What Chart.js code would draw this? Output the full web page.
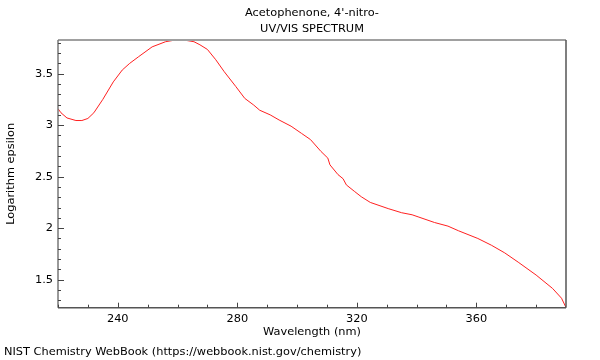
<!DOCTYPE html>
<html>
<head>
<meta charset="utf-8">
<script src="https://cdn.jsdelivr.net/npm/chart.js@4/dist/chart.umd.min.js"></script>
<style>
    html, body { margin: 0; padding: 0; background: #fff; }
    #wrap { width: 600px; height: 360px; }
</style>
</head>
<body>
<div id="wrap"><canvas id="spectrum" width="600" height="360"></canvas></div>
<script>
// values
const wavelength = [220, 221, 223, 226, 228, 230, 232, 235, 238.5, 241.5, 244, 247, 251.5, 256, 259, 262,
    265.5, 267.5, 270, 272.8, 275.6, 279.5, 282.5, 285.5, 287.5, 291, 294, 298, 301.5, 304.5, 308,
    310.3, 311, 313.7, 315.4, 316.5, 319.3, 321.5, 324.5, 330.5, 335, 338.5, 340.5, 346, 350.5,
    354, 360.5, 365, 369.5, 374, 380, 385.5, 388.5, 390];
const logEpsilon = [3.16, 3.12, 3.07, 3.045, 3.045, 3.065, 3.12, 3.25, 3.42, 3.535, 3.60, 3.665, 3.76, 3.81, 3.825, 3.827,
    3.81, 3.78, 3.735, 3.635, 3.52, 3.375, 3.26, 3.195, 3.145, 3.10, 3.05, 2.99, 2.92, 2.86, 2.745,
    2.68, 2.615, 2.52, 2.48, 2.42, 2.355, 2.305, 2.25, 2.19, 2.15, 2.13, 2.11, 2.055, 2.02,
    1.975, 1.90, 1.835, 1.76, 1.67, 1.545, 1.415, 1.32, 1.23];
const xTicks = [240, 280, 320, 360];
const yTicks = [1.5, 2, 2.5, 3, 3.5];
const titleLines = ["Acetophenone, 4'-nitro-", 'UV/VIS SPECTRUM'];
const footerText = 'NIST Chemistry WebBook (https://webbook.nist.gov/chemistry)';

const FONT = 'DejaVu Sans';
const FSIZE = 11.35;

// frame, inward ticks and footer
const framePlugin = {
    id: 'frame',
    afterDraw(chart) {
        const ctx = chart.ctx;
        const a = chart.chartArea;
        const xs = chart.scales.x;
        const ys = chart.scales.y;
        ctx.save();

        ctx.strokeStyle = '#a0a0a0';
        ctx.lineWidth = 2;
        ctx.beginPath();
        ctx.moveTo(a.left, a.top);
        ctx.lineTo(a.right, a.top);
        ctx.stroke();

        ctx.strokeStyle = '#555';
        ctx.lineWidth = 1.5;
        ctx.beginPath();
        ctx.moveTo(a.right, a.top);
        ctx.lineTo(a.right, a.bottom);
        ctx.moveTo(a.left, a.bottom);
        ctx.lineTo(a.right, a.bottom);
        ctx.stroke();

        ctx.strokeStyle = '#777';
        ctx.beginPath();
        ctx.moveTo(a.left, a.top);
        ctx.lineTo(a.left, a.bottom);
        ctx.stroke();

        ctx.strokeStyle = '#444';
        ctx.lineWidth = 1;
        ctx.beginPath();
        for (let v = Math.ceil(xs.min / 10) * 10; v < xs.max; v += 10) {
            const px = Math.round(xs.getPixelForValue(v)) + 0.5;
            const len = xTicks.includes(v) ? 5 : 3;
            ctx.moveTo(px, a.bottom);
            ctx.lineTo(px, a.bottom - len);
        }
        for (let i = Math.ceil(ys.min * 10); i / 10 < ys.max; i++) {
            const v = i / 10;
            const py = Math.round(ys.getPixelForValue(v)) + 0.5;
            const len = yTicks.some(t => Math.abs(t - v) < 1e-6) ? 6 : 3;
            ctx.moveTo(a.left, py);
            ctx.lineTo(a.left + len, py);
        }
        ctx.stroke();

        ctx.fillStyle = '#000';
        ctx.font = FSIZE + 'px "' + FONT + '"';
        ctx.textBaseline = 'middle';
        ctx.textAlign = 'left';
        ctx.fillText(footerText, 4, 352);
        ctx.restore();
    }
};

const ctx = document.getElementById('spectrum').getContext('2d');
new Chart(ctx, {
    type: 'line',
    data: {
        datasets: [{
            data: wavelength.map((w, i) => ({ x: w, y: logEpsilon[i] })),
            borderColor: '#ff2020',
            borderWidth: 1,
            pointRadius: 0,
            tension: 0,
            fill: false
        }]
    },
    options: {
        responsive: false,
        animation: false,
        layout: { padding: { top: 0, right: 34, bottom: 0, left: 0 } },
        plugins: {
            legend: { display: false },
            tooltip: { enabled: false },
            title: {
                display: true,
                fullSize: false,
                text: titleLines,
                color: '#000',
                font: { family: FONT, size: FSIZE, weight: 'normal', lineHeight: 1.45 },
                padding: { top: 4.75, bottom: 2.3 }
            }
        },
        scales: {
            x: {
                type: 'linear',
                min: 220,
                max: 390,
                grid: { display: false, drawTicks: false },
                border: { display: false },
                afterBuildTicks: scale => { scale.ticks = xTicks.map(v => ({ value: v })); },
                afterFit: scale => { scale.height = 52.3; },
                ticks: {
                    color: '#000',
                    padding: 5,
                    maxRotation: 0,
                    font: { family: FONT, size: FSIZE }
                },
                title: {
                    display: true,
                    text: 'Wavelength (nm)',
                    color: '#000',
                    font: { family: FONT, size: FSIZE },
                    padding: { top: 0, bottom: 21 }
                }
            },
            y: {
                type: 'linear',
                min: 1.228,
                max: 3.827,
                grid: { display: false, drawTicks: false },
                border: { display: false },
                afterBuildTicks: scale => { scale.ticks = yTicks.map(v => ({ value: v })); },
                afterFit: scale => { scale.width = 58; },
                ticks: {
                    color: '#000',
                    padding: 5,
                    font: { family: FONT, size: FSIZE },
                    callback: value => String(value)
                },
                title: {
                    display: true,
                    text: 'Logarithm epsilon',
                    color: '#000',
                    font: { family: FONT, size: FSIZE },
                    padding: { top: 4, bottom: 0 }
                }
            }
        }
    },
    plugins: [framePlugin]
});
</script>
</body>
</html>
